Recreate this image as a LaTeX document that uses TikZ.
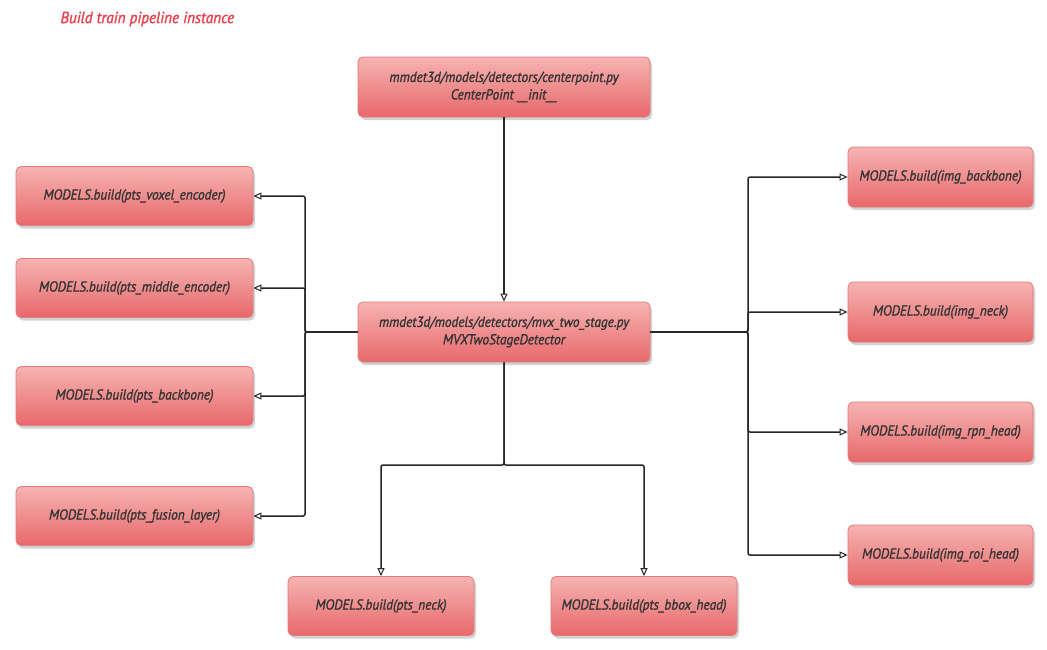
\documentclass[tikz,border=0pt]{standalone}
\usepackage{fontspec}
\setmainfont{PT Sans}
\newfontfamily\boxfont[FakeBold=1.2,FakeStretch=0.92]{PT Sans}
\newfontfamily\titlefont[FakeBold=1.5,FakeStretch=0.95]{PT Sans}
\usetikzlibrary{arrows.meta,shadows}
\definecolor{boxtop}{HTML}{F6B3B2}
\definecolor{boxbot}{HTML}{E8686A}
\definecolor{boxline}{HTML}{E07B7B}
\definecolor{titlered}{HTML}{E8414B}
\begin{document}
\begin{tikzpicture}[x=1pt,y=-1pt,
  mbox/.style={draw=boxline, line width=0.8pt, rounded corners=5pt,
    top color=boxtop, bottom color=boxbot, align=center,
    font=\boxfont\itshape\fontsize{14.5}{17.5}\selectfont, text=black!80,
    drop shadow={opacity=0.35, shadow xshift=2pt, shadow yshift=-3pt},
    inner sep=2pt},
  lbox/.style={mbox, minimum width=237pt, minimum height=59pt},
  rbox/.style={mbox, minimum width=185pt, minimum height=60pt},
  bbox/.style={mbox, minimum width=186pt, minimum height=59pt},
  cbox/.style={mbox, minimum width=292pt, minimum height=60pt},
  conn/.style={draw=black!85, line width=1.5pt, rounded corners=2pt},
  arr/.style={conn, -{Triangle[open, length=8pt, width=7pt, line width=1pt]}}
]
\useasboundingbox (0,0) rectangle (1047,649);
\fill[white] (0,0) rectangle (1047,649);

\node[text=titlered, font=\titlefont\itshape\fontsize{16}{18}\selectfont, anchor=west] (title) at (57,19) {Build train pipeline instance};

\node[cbox] (cp) at (504,87) {mmdet3d/models/detectors/centerpoint.py\\CenterPoint \_\_init\_\_};
\node[cbox] (mvx) at (504,332) {mmdet3d/models/detectors/mvx\_two\_stage.py\\MVXTwoStageDetector};

\node[lbox] (vox) at (134.5,196) {MODELS.build(pts\_voxel\_encoder)};
\node[lbox] (mid) at (134.5,288) {MODELS.build(pts\_middle\_encoder)};
\node[lbox] (pbb) at (134.5,396) {MODELS.build(pts\_backbone)};
\node[lbox] (fus) at (134.5,516) {MODELS.build(pts\_fusion\_layer)};

\node[rbox] (ibb) at (940.5,177) {MODELS.build(img\_backbone)};
\node[rbox] (ink) at (940.5,312) {MODELS.build(img\_neck)};
\node[rbox] (rpn) at (940.5,432) {MODELS.build(img\_rpn\_head)};
\node[rbox] (roi) at (940.5,555) {MODELS.build(img\_roi\_head)};

\node[bbox] (pnk) at (381,606) {MODELS.build(pts\_neck)};
\node[bbox] (pbh) at (644,606) {MODELS.build(pts\_bbox\_head)};

\draw[arr] (cp.south) -- (mvx.north);

\coordinate (lt) at (305,332);
\coordinate (rt) at (748,332);
\coordinate (bt) at (504,465);

\foreach \t in {vox,mid,pbb,fus} \draw[arr] (mvx.west) -- (lt) |- (\t.east);
\foreach \t in {ibb,ink,rpn,roi} \draw[arr] (mvx.east) -- (rt) |- (\t.west);
\foreach \t in {pnk,pbh} \draw[arr] (mvx.south) -- (bt) -| (\t.north);
\end{tikzpicture}
\end{document}
